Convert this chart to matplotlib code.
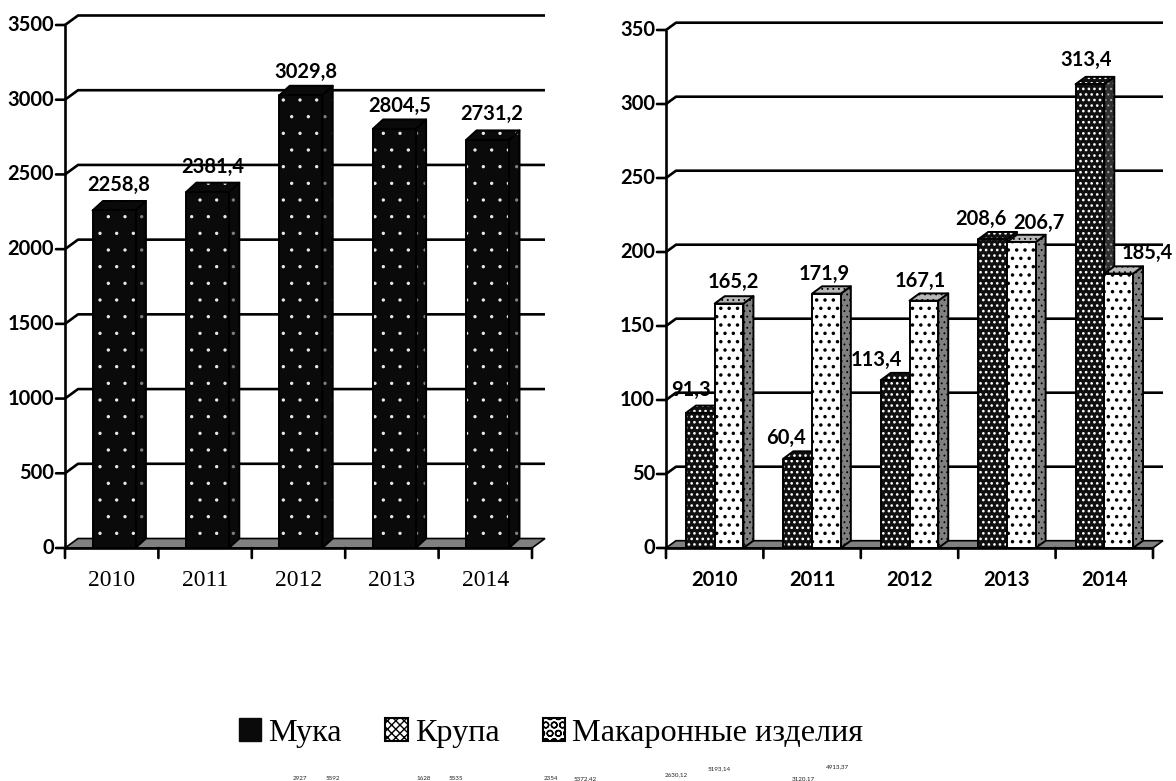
import matplotlib
matplotlib.use("Agg")
import matplotlib.pyplot as plt
from matplotlib.patches import Polygon, Patch

# data
years = ["2010", "2011", "2012", "2013", "2014"]
muka = [2258.8, 2381.4, 3029.8, 2804.5, 2731.2]
krupa = [91.3, 60.4, 113.4, 208.6, 313.4]
makarony = [165.2, 171.9, 167.1, 206.7, 185.4]
left_ticks = [0, 500, 1000, 1500, 2000, 2500, 3000, 3500]
right_ticks = [0, 50, 100, 150, 200, 250, 300, 350]
legend_names = ["Мука", "Крупа", "Макаронные изделия"]
stray_labels = ["2927", "5592", "1628", "5535", "2354", "5372,42", "2630,12", "5193,14", "3120,17", "4913,37"]

# label nudges in pixels from the front-top centre of each bar
muka_nudge = [(5, 26), (5, 25), (5, 23), (5, 23), (4, 26)]
krupa_nudge = [(-9, 23), (-12, 21), (-19, 20), (-12, 20), (-4, 24)]
makarony_nudge = [(4, 22), (-2, 20), (-4, 20), (18, 19), (29, 21)]
stray_pos = [(300, 779), (333, 779), (424, 779), (456, 779), (551, 779),
             (585, 779), (676, 775), (719, 769), (803, 779), (838, 767)]

W, H = 1176, 781
SANS = "Lato"
SERIF = "Liberation Serif"


def make_axes(fig, x0, x1, y_top, y_bottom):
    ax = fig.add_axes([x0 / W, 1 - y_bottom / H, (x1 - x0) / W, (y_bottom - y_top) / H])
    ax.axis("off")
    return ax


def face(ax, pts, style, z):
    color, hatch_color, hatch, hatch_lw = style
    p = Polygon(pts, closed=True, facecolor=color, edgecolor=hatch_color,
                hatch=hatch, lw=0, zorder=z, clip_on=False)
    p.set_hatch_linewidth(hatch_lw)
    ax.add_patch(p)
    ax.add_patch(Polygon(pts, closed=True, fill=False, edgecolor="black", lw=1.4,
                         zorder=z, clip_on=False, joinstyle="round"))


def bar3d(ax, x, w, v, ddx, ddy, z, front, top, side):
    face(ax, [(x, 0), (x + w, 0), (x + w, v), (x, v)], front, z + 0.2)
    face(ax, [(x, v), (x + w, v), (x + w + ddx, v + ddy), (x + ddx, v + ddy)], top, z + 0.1)
    face(ax, [(x + w, 0), (x + w + ddx, ddy), (x + w + ddx, v + ddy), (x + w, v)], side, z)


def frame(ax, ticks, ddx, ddy, xlabel_kw):
    n = len(years)
    top = ticks[-1]
    ax.set_xlim(0, n)
    ax.set_ylim(0, top)
    lc = dict(color="black", lw=1.9, clip_on=False, solid_capstyle="butt")
    ax.add_patch(Polygon([(0, 0), (n, 0), (n + ddx, ddy), (ddx, ddy)], closed=True,
                         facecolor="#808080", edgecolor="black", lw=1.2, zorder=1.5, clip_on=False))
    for t in ticks[1:]:
        ax.plot([0, ddx, n + ddx], [t, t + ddy, t + ddy], zorder=1, **lc)
    ax.plot([0, 0], [0, top], zorder=30, **lc)
    ax.plot([0, n], [0, 0], zorder=30, **lc)
    for t in ticks:
        ax.annotate("", xy=(0, t), xytext=(-9, 0), textcoords="offset pixels",
                    arrowprops=dict(arrowstyle="-", lw=1.9, color="black", shrinkA=0, shrinkB=0), zorder=30)
        ax.annotate(str(t), xy=(0, t), xytext=(-11, 0), textcoords="offset pixels", ha="right", va="center",
                    fontsize=14.5, fontweight="bold", family=SANS, annotation_clip=False)
    for i in range(n + 1):
        ax.annotate("", xy=(i, 0), xytext=(0, -10), textcoords="offset pixels",
                    arrowprops=dict(arrowstyle="-", lw=1.9, color="black", shrinkA=0, shrinkB=0), zorder=30)
    for i, y in enumerate(years):
        ax.annotate(y, xy=(i + 0.5, 0), xytext=(0, -32), textcoords="offset pixels",
                    ha="center", va="center", annotation_clip=False, **xlabel_kw)


def value_label(ax, x, v, nudge):
    ax.annotate(f"{v}".replace(".", ","), xy=(x, v), xytext=nudge, textcoords="offset pixels",
                ha="center", va="center", fontsize=14.5, fontweight="bold", family=SANS,
                zorder=40, annotation_clip=False)


MUKA_STYLE = ("#0a0a0a", "#e8e8e8", ".", 0.0)
MUKA_SIDE = ("#0a0a0a", "#808080", ".", 0.0)
KRUPA_STYLE = ("#101010", "white", "...", 1.1)
KRUPA_SIDE = ("#303030", "#a0a0a0", "...", 0.8)
MAK_STYLE = ("white", "black", "..", 1.3)
MAK_TOP = ("#b8b8b8", "black", "...", 0.6)
MAK_SIDE = ("#808080", "black", "...", 0.6)

fig = plt.figure(figsize=(W / 100, H / 100), dpi=100)

# left chart
ax1 = make_axes(fig, 65, 532, 25, 548)
cat1 = 467 / 5
val1 = 523 / 3500
dx1, dy1 = 13 / cat1, 9.5 / val1
frame(ax1, left_ticks, dx1, dy1, dict(fontsize=17, family=SERIF))
for i, v in enumerate(muka):
    x = i + 0.295
    bar3d(ax1, x, 0.46, v, dx1 * 0.8, dy1, 5 + i, MUKA_STYLE, MUKA_STYLE, MUKA_SIDE)
    value_label(ax1, x + 0.23, v, muka_nudge[i])

# right chart
ax2 = make_axes(fig, 666, 1153, 30, 548)
cat2 = 487 / 5
val2 = 518 / 350
dx2, dy2 = 10 / cat2, 7.3 / val2
frame(ax2, right_ticks, dx2, dy2, dict(fontsize=14.5, fontweight="bold", family=SANS))
bw = 0.295
for i in range(len(years)):
    x = i + 0.205
    bar3d(ax2, x, bw, krupa[i], dx2, dy2, 5 + 2 * i, KRUPA_STYLE, KRUPA_STYLE, KRUPA_SIDE)
    bar3d(ax2, x + bw, bw, makarony[i], dx2, dy2, 6 + 2 * i, MAK_STYLE, MAK_TOP, MAK_SIDE)
    value_label(ax2, x + bw / 2, krupa[i], krupa_nudge[i])
    value_label(ax2, x + bw * 1.5, makarony[i], makarony_nudge[i])

# legend
handles = [
    Patch(facecolor="#0a0a0a", edgecolor="#0a0a0a", lw=1),
    Patch(facecolor="white", edgecolor="black", hatch="xxxx", lw=1.5),
    Patch(facecolor="white", edgecolor="black", hatch="OO", lw=1.5),
]
fig.legend(handles, legend_names, loc="center", bbox_to_anchor=(551 / W, 1 - 733 / H), ncol=3, frameon=False,
           prop=dict(family=SERIF, size=23.2), handlelength=0.7, handleheight=0.7,
           handletextpad=0.22, columnspacing=1.34)

# stray tiny labels under the legend
for s, (px, py) in zip(stray_labels, stray_pos):
    fig.text(px / W, 1 - py / H, s, fontsize=4.5, family=SANS, ha="center", va="center", color="#222222")

fig.savefig("out.png", dpi=100)
